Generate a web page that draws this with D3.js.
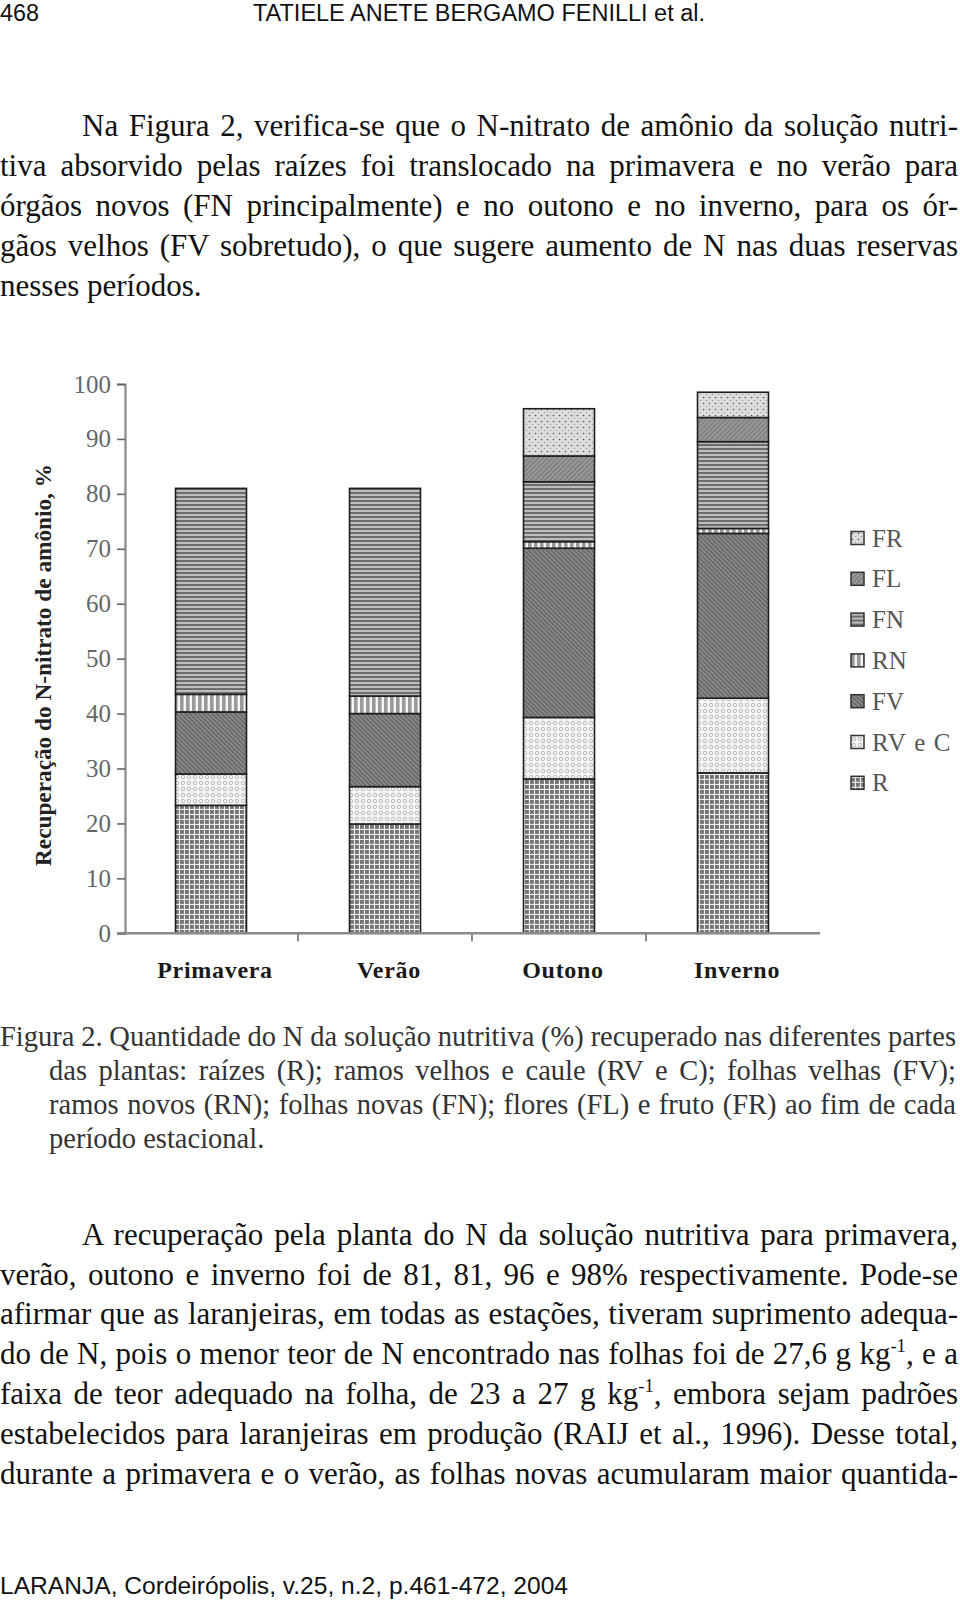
<!DOCTYPE html>
<html>
<head>
<meta charset="utf-8">
<script src="https://cdn.jsdelivr.net/npm/d3@7"></script>
<style>
html,body{margin:0;padding:0;background:#fff;}
svg{display:block;}
</style>
</head>
<body>
<svg id="page" width="960" height="1602"></svg>
<script>
// ---------- data ----------
const categories = ["Primavera", "Verão", "Outono", "Inverno"];
const seriesKeys = ["R", "RV e C", "FV", "RN", "FN", "FL", "FR"];
const valR    = [23.3, 19.9, 28.1, 29.2];
const valRVeC = [5.7, 6.8, 11.2, 13.6];
const valFV   = [11.3, 13.3, 30.8, 30.0];
const valRN   = [3.2, 3.2, 1.2, 0.9];
const valFN   = [37.5, 37.8, 10.9, 15.8];
const valFL   = [0, 0, 4.7, 4.4];
const valFR   = [0, 0, 8.6, 4.6];
const yTicks  = [0, 10, 20, 30, 40, 50, 60, 70, 80, 90, 100];
const legendOrder = ["FR", "FL", "FN", "RN", "FV", "RV e C", "R"];

const para1 = [
  "Na Figura 2, verifica-se que o N-nitrato de amônio da solução nutri-",
  "tiva absorvido pelas raízes foi translocado na primavera e no verão para",
  "órgãos novos (FN principalmente) e no outono e no inverno, para os ór-",
  "gãos velhos (FV sobretudo), o que sugere aumento de N nas duas reservas",
  "nesses períodos."
];
const caption = [
  "Figura 2. Quantidade do N da solução nutritiva (%) recuperado nas diferentes partes",
  "das plantas: raízes (R); ramos velhos e caule (RV e C); folhas velhas (FV);",
  "ramos novos (RN); folhas novas (FN); flores (FL) e fruto (FR) ao fim de cada",
  "período estacional."
];
const para2 = [
  "A recuperação pela planta do N da solução nutritiva para primavera,",
  "verão, outono e inverno foi de 81, 81, 96 e 98% respectivamente. Pode-se",
  "afirmar que as laranjeiras, em todas as estações, tiveram suprimento adequa-",
  "do de N, pois o menor teor de N encontrado nas folhas foi de 27,6 g kg^-1^, e a",
  "faixa de teor adequado na folha, de 23 a 27 g kg^-1^, embora sejam padrões",
  "estabelecidos para laranjeiras em produção (RAIJ et al., 1996). Desse total,",
  "durante a primavera e o verão, as folhas novas acumularam maior quantida-"
];

const table = categories.map((c, i) => ({
  cat: c, "R": valR[i], "RV e C": valRVeC[i], "FV": valFV[i], "RN": valRN[i],
  "FN": valFN[i], "FL": valFL[i], "FR": valFR[i]
}));

// ---------- page ----------
const svg = d3.select("#page");
const serif = "'Liberation Serif','Times New Roman',serif";
const sans = "'Liberation Sans Narrow','Liberation Sans',Arial,sans-serif";

// patterns
const defs = svg.append("defs");
function pat(id, w, h, build, transform) {
  const p = defs.append("pattern").attr("id", id).attr("patternUnits", "userSpaceOnUse")
    .attr("width", w).attr("height", h);
  if (transform) p.attr("patternTransform", transform);
  build(p);
}
pat("p-R", 5, 5, p => {
  p.append("rect").attr("width", 5).attr("height", 5).attr("fill", "#747474");
  p.append("rect").attr("x", 3.9).attr("width", 1.1).attr("height", 5).attr("fill", "#f0f0f0");
  p.append("rect").attr("y", 3.9).attr("width", 5).attr("height", 1.1).attr("fill", "#f0f0f0");
});
pat("p-RVeC", 6, 6, p => {
  p.append("rect").attr("width", 6).attr("height", 6).attr("fill", "#f4f4f4");
  p.append("circle").attr("cx", 3).attr("cy", 3).attr("r", 1.7).attr("fill", "none")
    .attr("stroke", "#b4b4b4").attr("stroke-width", 0.9);
});
pat("p-FV", 3.2, 3.2, p => {
  p.append("rect").attr("width", 3.2).attr("height", 3.2).attr("fill", "#8c8c8c");
  p.append("rect").attr("width", 1.4).attr("height", 3.2).attr("fill", "#626262");
}, "rotate(-45)");
pat("p-RN", 6, 6, p => {
  p.append("rect").attr("width", 6).attr("height", 6).attr("fill", "#f6f6f6");
  p.append("rect").attr("width", 3.6).attr("height", 6).attr("fill", "#9a9a9a");
});
pat("p-FN", 4, 4, p => {
  p.append("rect").attr("width", 4).attr("height", 4).attr("fill", "#bdbdbd");
  p.append("rect").attr("width", 4).attr("height", 2).attr("fill", "#6c6c6c");
});
pat("p-FL", 3.4, 3.4, p => {
  p.append("rect").attr("width", 3.4).attr("height", 3.4).attr("fill", "#9c9c9c");
  p.append("rect").attr("width", 1.3).attr("height", 3.4).attr("fill", "#767676");
}, "rotate(45)");
pat("p-FR", 6, 6, p => {
  p.append("rect").attr("width", 6).attr("height", 6).attr("fill", "#dcdcdc");
  p.append("circle").attr("cx", 1.5).attr("cy", 1.5).attr("r", 0.8).attr("fill", "#555");
  p.append("circle").attr("cx", 4.5).attr("cy", 4.5).attr("r", 0.6).attr("fill", "#8a8a8a");
});
const patId = { "R": "p-R", "RV e C": "p-RVeC", "FV": "p-FV", "RN": "p-RN", "FN": "p-FN", "FL": "p-FL", "FR": "p-FR" };

// ---------- text helpers ----------
function addLine(x, y, str, width, size, color, family) {
  const t = svg.append("text").attr("x", x).attr("y", y)
    .attr("font-family", family || serif).attr("font-size", size).attr("fill", color || "#111");
  const parts = str.split("^");
  parts.forEach((s, i) => {
    if (!s.length) return;
    if (i % 2 === 1) {
      t.append("tspan").attr("font-size", size * 0.6).attr("dy", -size * 0.38).text(s);
    } else {
      const ts = t.append("tspan").text(s);
      if (i > 0) ts.attr("dy", size * 0.38);
    }
  });
  if (width) {
    const natural = t.node().getComputedTextLength();
    const spaces = (str.match(/ /g) || []).length;
    if (spaces > 0) t.attr("word-spacing", (width - natural) / spaces);
  }
  return t;
}

// header
svg.append("text").attr("x", 0).attr("y", 21).attr("font-family", sans).attr("font-size", 23)
  .attr("fill", "#111").attr("textLength", 39).attr("lengthAdjust", "spacingAndGlyphs").text("468");
svg.append("text").attr("x", 253).attr("y", 21).attr("font-family", sans).attr("font-size", 23)
  .attr("fill", "#111").attr("textLength", 452).attr("lengthAdjust", "spacingAndGlyphs")
  .text("TATIELE ANETE BERGAMO FENILLI et al.");

// paragraph 1
const p1y = [136, 176, 216, 256, 296];
para1.forEach((s, i) => {
  const x = i === 0 ? 82 : 0;
  addLine(x, p1y[i], s, i < para1.length - 1 ? 958 - x : null, 31, "#111");
});

// ---------- chart ----------
const x = d3.scaleBand().domain(categories).range([124, 820]).paddingInner(0.592).paddingOuter(0.296);
const y = d3.scaleLinear().domain([0, 100]).range([933.3, 384]);

const stacked = d3.stack().keys(seriesKeys)(table);

const chart = svg.append("g");

// y axis
const yAxis = chart.append("g").attr("transform", "translate(125,0)")
  .call(d3.axisLeft(y).tickValues(yTicks).tickSize(8).tickPadding(6).tickFormat(d3.format("d")));
yAxis.select(".domain").attr("stroke", "#8a8a8a").attr("stroke-width", 2.2);
yAxis.selectAll(".tick line").attr("stroke", "#666").attr("stroke-width", 1.6);
yAxis.selectAll(".tick text").attr("font-family", serif).attr("font-size", 25).attr("fill", "#666");

// bars
stacked.forEach(series => {
  chart.append("g").selectAll("rect").data(series.filter(d => d[1] - d[0] > 0)).join("rect")
    .attr("x", d => x(d.data.cat))
    .attr("width", x.bandwidth())
    .attr("y", d => y(d[1]))
    .attr("height", d => y(d[0]) - y(d[1]))
    .attr("fill", `url(#${patId[series.key]})`)
    .attr("stroke", "#1e1e1e").attr("stroke-width", 1.6);
});

// x axis
const xAxis = chart.append("g").attr("transform", `translate(0,${y(0)})`);
xAxis.append("line").attr("x1", 117).attr("x2", 820).attr("y1", 0).attr("y2", 0)
  .attr("stroke", "#8a8a8a").attr("stroke-width", 2.4);
const bounds = categories.slice(1).map(c => x(c) - x.step() * x.paddingInner() / 2);
xAxis.selectAll("line.bt").data(bounds).join("line").attr("class", "bt")
  .attr("x1", d => d).attr("x2", d => d).attr("y1", 1).attr("y2", 8)
  .attr("stroke", "#555").attr("stroke-width", 1.4);
xAxis.selectAll("text").data(categories).join("text")
  .attr("x", d => x(d) + x.bandwidth() / 2 + 4)
  .attr("y", 45)
  .attr("text-anchor", "middle")
  .attr("font-family", serif).attr("font-weight", "bold").attr("font-size", 24)
  .attr("fill", "#1a1a1a").attr("letter-spacing", 0.7)
  .text(d => d);

// y title
chart.append("text")
  .attr("transform", "translate(51,665) rotate(-90)")
  .attr("text-anchor", "middle")
  .attr("font-family", serif).attr("font-weight", "bold").attr("font-size", 23)
  .attr("fill", "#222")
  .attr("textLength", 402).attr("lengthAdjust", "spacingAndGlyphs")
  .text("Recuperação do N-nitrato de amônio, %");

// legend
const legend = chart.append("g");
const lg = legend.selectAll("g").data(legendOrder).join("g")
  .attr("transform", (d, i) => `translate(851,${538 + i * 40.8})`);
lg.append("rect").attr("x", 0).attr("y", -6.5).attr("width", 13).attr("height", 13)
  .attr("fill", d => `url(#${patId[d]})`).attr("stroke", "#333").attr("stroke-width", 1.5);
lg.append("text").attr("x", 21).attr("y", 8.5)
  .attr("font-family", serif).attr("font-size", 25).attr("fill", "#555")
  .attr("letter-spacing", d => d === "RV e C" ? 1.2 : 0)
  .text(d => d);

// caption
const capY = [1046, 1080, 1114, 1148];
caption.forEach((s, i) => {
  const xx = i === 0 ? 0 : 49;
  addLine(xx, capY[i], s, i < caption.length - 1 ? 956 - xx : null, 28.5, "#333");
});

// paragraph 2
const p2y = [1245, 1284.5, 1324, 1364, 1404, 1444, 1484];
para2.forEach((s, i) => {
  const xx = i === 0 ? 82 : 0;
  addLine(xx, p2y[i], s, 958 - xx, 31, "#111");
});

// footer
svg.append("text").attr("x", 0).attr("y", 1594).attr("font-family", sans).attr("font-size", 23)
  .attr("fill", "#111").attr("textLength", 568).attr("lengthAdjust", "spacingAndGlyphs")
  .text("LARANJA, Cordeirópolis, v.25, n.2, p.461-472, 2004");
</script>
</body>
</html>
